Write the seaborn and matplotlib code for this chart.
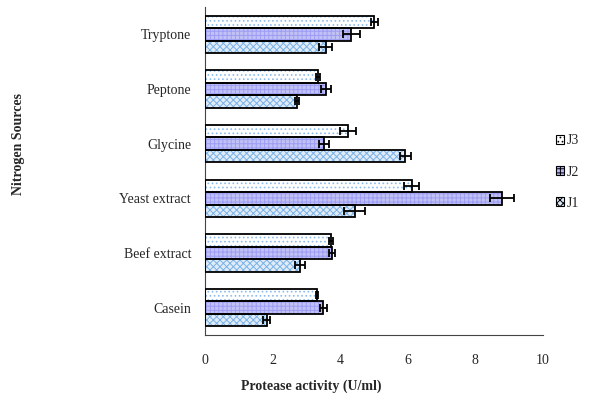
import numpy as np
import pandas as pd
import seaborn as sns
import matplotlib.pyplot as plt
from matplotlib.patches import Rectangle

sources = ["Tryptone", "Peptone", "Glycine", "Yeast extract", "Beef extract", "Casein"]
strains = ["J3", "J2", "J1"]

j3 = [5.01, 3.34, 4.23, 6.12, 3.73, 3.30]
j2 = [4.33, 3.57, 3.52, 8.78, 3.76, 3.50]
j1 = [3.57, 2.72, 5.93, 4.43, 2.82, 1.82]

j3_err = [0.10, 0.06, 0.25, 0.22, 0.06, 0.03]
j2_err = [0.26, 0.15, 0.15, 0.36, 0.10, 0.10]
j1_err = [0.20, 0.07, 0.15, 0.31, 0.15, 0.10]

df = pd.DataFrame({
    "source": sources * 3,
    "strain": ["J3"] * 6 + ["J2"] * 6 + ["J1"] * 6,
    "value": j3 + j2 + j1,
    "err": j3_err + j2_err + j1_err,
})

sns.set_style("white")
plt.rcParams["font.family"] = ["Liberation Serif", "DejaVu Serif"]
plt.rcParams["hatch.linewidth"] = 0.7

fill = {"J3": "#ffffff", "J2": "#b8b8fc", "J1": "#dcecfb"}
hatch_col = {"J3": "#8cbcec", "J2": "#9d9df4", "J1": "#7ab2e8"}
hatch = {"J3": "....", "J2": "++++", "J1": "xxxxx"}

fig = plt.figure(figsize=(6.1, 3.96), dpi=100)
ax = fig.add_axes([205 / 610, 1 - 335 / 396, 338 / 610, 328 / 396])

sns.barplot(data=df, y="source", x="value", hue="strain", order=sources,
            hue_order=strains, palette=fill, errorbar=None, width=0.68,
            orient="h", ax=ax, legend=False)

# coloured hatch layer + black outline, then error bars
for strain, cont in zip(strains, ax.containers):
    errs = df[df.strain == strain].set_index("source").loc[sources, "err"].values
    for bar, e in zip(cont.patches, errs):
        bar.set_hatch(hatch[strain])
        bar.set_edgecolor(hatch_col[strain])
        bar.set_linewidth(0)
        x0, y0 = bar.get_x(), bar.get_y()
        w, h = bar.get_width(), bar.get_height()
        ax.add_patch(Rectangle((x0, y0), w, h, fill=False, edgecolor="black", lw=1.3, zorder=3))
        ax.errorbar(w, y0 + h / 2, xerr=e, fmt="none", ecolor="black",
                    elinewidth=1.3, capsize=3, capthick=1.3, zorder=4)

ax.set_xlim(0, 10)
ax.set_ylim(5.5, -0.5)
ax.set_xticks(np.arange(0, 10.1, 2))
ax.set_yticks(np.arange(-0.5, 6, 1), minor=True)
ax.tick_params(axis="y", which="major", length=0, labelsize=10, pad=10)
ax.tick_params(axis="y", which="minor", length=4, width=0.8, direction="out", color="#444444")
ax.tick_params(axis="x", which="major", length=4, width=0.8, direction="out", color="#444444",
               labelsize=10, pad=10)
ax.set_xlabel("")
ax.set_ylabel("")
for s in ["top", "right"]:
    ax.spines[s].set_visible(False)
for s in ["left", "bottom"]:
    ax.spines[s].set_color("#444444")
    ax.spines[s].set_linewidth(0.8)

fig.text(311 / 610, 1 - 386 / 396, "Protease activity (U/ml)", ha="center", va="center",
         fontsize=10, fontweight="bold")
fig.text(19 / 610, 1 - 144 / 396, "Nitrogen Sources", ha="center", va="center",
         rotation=90, fontsize=10, fontweight="bold")

# legend
handles = [Rectangle((0, 0), 1, 1, facecolor=fill[s], edgecolor="black", hatch=hatch[s], lw=0.8)
           for s in strains]
fig.legend(handles, strains, loc="center left", bbox_to_anchor=(543 / 610, 1 - 172 / 396),
           frameon=False, fontsize=10, handlelength=0.6, handleheight=0.6,
           handletextpad=0.2, labelspacing=1.3)

fig.savefig("out.png", dpi=100)
